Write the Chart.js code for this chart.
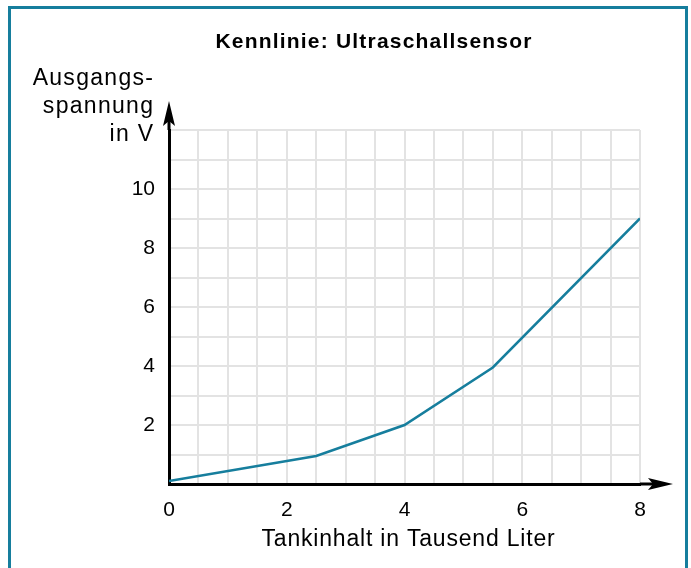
<!DOCTYPE html>
<html>
<head>
<meta charset="utf-8">
<script src="https://cdn.jsdelivr.net/npm/chart.js@4"></script>
<style>
html,body{margin:0;padding:0;background:#fff;}
#wrap{width:691px;height:568px;position:relative;}
</style>
</head>
<body>
<div id="wrap"><canvas id="c" width="691" height="568"></canvas></div>
<script>
// Data
const tankinhalt = [0, 2.5, 4, 5.5, 8];          // Tausend Liter
const spannung   = [0.1, 0.95, 2, 3.95, 9];      // V
const xTickLabels = [0, 2, 4, 6, 8];
const yTickLabels = [2, 4, 6, 8, 10];
const titleText = 'Kennlinie: Ultraschallsensor';
const yLabelLines = ['Ausgangs-', 'spannung', 'in V'];
const xLabelText = 'Tankinhalt in Tausend Liter';

const FONT = '"Liberation Sans", Arial, sans-serif';
const teal = '#167e9d';

const decor = {
  id: 'decor',
  afterDraw(chart) {
    const ctx = chart.ctx;
    const a = chart.chartArea;
    const xs = chart.scales.x, ys = chart.scales.y;
    const x0 = xs.getPixelForValue(0), y0 = ys.getPixelForValue(0);
    ctx.save();
    // frame
    ctx.strokeStyle = teal;
    ctx.lineWidth = 3;
    ctx.strokeRect(9.5, 7.5, 677, 620);
    // axis extensions and arrowheads
    ctx.strokeStyle = '#000';
    ctx.fillStyle = '#000';
    ctx.lineWidth = 3;
    ctx.beginPath();
    ctx.moveTo(x0, a.top); ctx.lineTo(x0, 110);
    ctx.moveTo(a.right, y0); ctx.lineTo(664, y0);
    ctx.stroke();
    // y arrow
    ctx.beginPath();
    ctx.moveTo(x0, 101);
    ctx.lineTo(x0 + 6, 126);
    ctx.lineTo(x0, 121);
    ctx.lineTo(x0 - 6, 126);
    ctx.closePath();
    ctx.fill();
    // x arrow
    ctx.beginPath();
    ctx.moveTo(673, y0);
    ctx.lineTo(648, y0 - 6);
    ctx.lineTo(653, y0);
    ctx.lineTo(648, y0 + 6);
    ctx.closePath();
    ctx.fill();
    // title
    ctx.fillStyle = '#000';
    ctx.textBaseline = 'alphabetic';
    ctx.font = 'bold 21px ' + FONT;
    ctx.letterSpacing = '1.2px';
    ctx.textAlign = 'center';
    ctx.fillText(titleText, 374, 48);
    // y label
    ctx.font = '23px ' + FONT;
    ctx.letterSpacing = '1.3px';
    ctx.textAlign = 'right';
    const bl = [85, 113, 141];
    yLabelLines.forEach((t, i) => ctx.fillText(t, 154.3, bl[i]));
    // x label
    ctx.textAlign = 'center';
    ctx.letterSpacing = '0.8px';
    ctx.fillText(xLabelText, 408.5, 546);
    ctx.restore();
  }
};

new Chart(document.getElementById('c'), {
  type: 'line',
  data: {
    datasets: [{
      data: tankinhalt.map((x, i) => ({x: x, y: spannung[i]})),
      borderColor: teal,
      borderWidth: 2.5,
      pointRadius: 0,
      tension: 0,
      fill: false
    }]
  },
  options: {
    responsive: false,
    animation: false,
    layout: { padding: { left: 109, right: 51, top: 130, bottom: 34 } },
    plugins: { legend: { display: false }, tooltip: { enabled: false }, title: { display: false } },
    scales: {
      x: {
        type: 'linear', min: 0, max: 8,
        afterFit(s) { s.height = 50; },
        ticks: {
          stepSize: 0.5, autoSkip: false, maxRotation: 0,
          padding: 14, color: '#000',
          font: { family: FONT, size: 21 },
          callback: v => xTickLabels.includes(v) ? String(v) : ''
        },
        grid: { color: '#e3e3e3', lineWidth: 2, drawTicks: false },
        border: { color: '#000', width: 3 }
      },
      y: {
        type: 'linear', min: 0, max: 12,
        afterFit(s) { s.width = 60; },
        ticks: {
          stepSize: 1, autoSkip: false,
          padding: 14, color: '#000',
          font: { family: FONT, size: 21 },
          callback: v => yTickLabels.includes(v) ? String(v) : ''
        },
        grid: { color: '#e3e3e3', lineWidth: 2, drawTicks: false },
        border: { color: '#000', width: 3 }
      }
    }
  },
  plugins: [decor]
});
</script>
</body>
</html>
